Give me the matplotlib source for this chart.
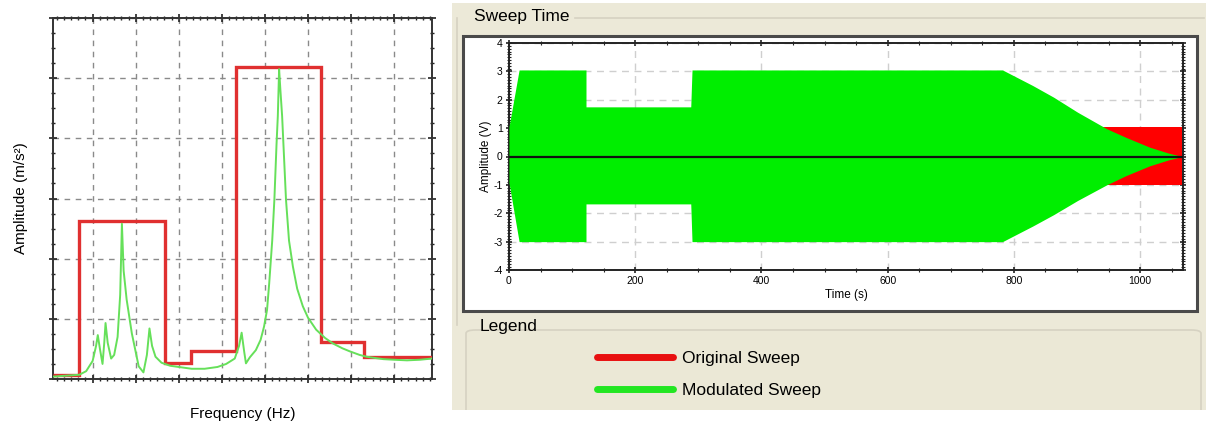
import numpy as np
import matplotlib
matplotlib.use("Agg")
import matplotlib.pyplot as plt
from matplotlib.patches import Rectangle, FancyBboxPatch
from matplotlib.lines import Line2D
from matplotlib.ticker import MultipleLocator

plt.rcParams["axes.unicode_minus"] = False

# ---- left panel: PSD profile (original) and response (modulated) ----
step_edges = [0.08, 0.69, 2.67, 3.29, 4.32, 6.31, 7.30, 8.88]
step_levels = [0.07, 2.62, 0.26, 0.47, 5.19, 0.61, 0.36]

resp_freq = [0.08, 0.69, 0.85, 1.0, 1.08, 1.12, 1.17, 1.23, 1.27, 1.30, 1.35, 1.43,
             1.50, 1.58, 1.64, 1.68, 1.72, 1.79, 1.91, 2.0, 2.07, 2.18, 2.26, 2.32,
             2.38, 2.46, 2.60, 2.80, 3.0, 3.3, 3.6, 3.9, 4.1, 4.3, 4.40, 4.46, 4.52,
             4.56, 4.65, 4.79, 4.9, 4.98, 5.05, 5.10, 5.17, 5.22, 5.27, 5.30, 5.33,
             5.36, 5.40, 5.45, 5.49, 5.56, 5.65, 5.75, 5.88, 6.0, 6.19, 6.4, 6.58,
             6.8, 6.97, 7.2, 7.36, 7.55, 7.75, 8.0, 8.3, 8.6, 8.88]
resp_amp = [0.04, 0.07, 0.13, 0.30, 0.55, 0.73, 0.50, 0.25, 0.60, 0.93, 0.60, 0.34,
            0.40, 0.70, 1.40, 2.58, 1.80, 1.32, 0.76, 0.45, 0.21, 0.11, 0.40, 0.84,
            0.55, 0.37, 0.27, 0.22, 0.20, 0.17, 0.17, 0.20, 0.25, 0.34, 0.55, 0.77,
            0.45, 0.26, 0.36, 0.48, 0.65, 0.87, 1.15, 1.59, 2.30, 2.98, 3.90, 4.37,
            5.15, 4.80, 4.37, 3.60, 2.98, 2.30, 1.87, 1.50, 1.21, 1.02, 0.82, 0.68,
            0.59, 0.51, 0.46, 0.40, 0.37, 0.35, 0.33, 0.32, 0.31, 0.32, 0.34]

# ---- right panel: sweep time envelopes ----
sweep_t = [0, 16, 122, 122, 288, 290, 782, 830, 863, 901, 947, 977, 1015, 1045, 1067]
mod_top = [1.05, 3.05, 3.05, 1.75, 1.75, 3.05, 3.05, 2.5, 2.09, 1.56, 0.98, 0.68, 0.33, 0.12, 0.0]
mod_bot = [-0.93, -3.0, -3.0, -1.67, -1.67, -3.0, -3.0, -2.45, -2.05, -1.55, -1.0, -0.68, -0.33, -0.12, 0.0]
orig_t = [0, 1067]
orig_top = [1.05, 1.05]
orig_bot = [-1.02, -1.02]

W, H = 1206, 428
fig = plt.figure(figsize=(W / 100, H / 100), dpi=100)
fig.patch.set_facecolor("white")

def fx(px):
    return px / W

def fy(py):
    return 1 - py / H

narrow = ["Liberation Sans Narrow", "Liberation Sans", "DejaVu Sans"]
beige = "#ece9d8"

# window-like background on the right
fig.patches.append(Rectangle((fx(452), fy(410)), fx(1206) - fx(452), fy(3) - fy(410),
                             transform=fig.transFigure, facecolor=beige, edgecolor="none", zorder=0))
fig.add_artist(Line2D([fx(575), fx(1204)], [fy(18), fy(18)], transform=fig.transFigure,
                      color="#d6d2c2", lw=1.2))
fig.add_artist(Line2D([fx(457), fx(457)], [fy(18), fy(325)], transform=fig.transFigure,
                      color="#d6d2c2", lw=1.2))
fig.patches.append(FancyBboxPatch((fx(466), fy(425)), fx(1201) - fx(466), fy(330) - fy(425),
                                  boxstyle="round,pad=0,rounding_size=0.008",
                                  transform=fig.transFigure, facecolor="#ebe8d6",
                                  edgecolor="#d6d2c2", lw=1.2, zorder=1))
fig.patches.append(Rectangle((fx(440), 0), 1 - fx(440), fy(410), transform=fig.transFigure,
                             facecolor="white", edgecolor="none", zorder=2))
fig.patches.append(Rectangle((fx(463), fy(311)), fx(1197) - fx(463), fy(36) - fy(311),
                             transform=fig.transFigure, facecolor="white", edgecolor="#4a4a4a",
                             lw=2.2, zorder=1))
fig.text(fx(474), fy(17), "Sweep Time", fontsize=12.5, family=narrow, va="center", ha="left")
fig.text(fx(480), fy(327), "Legend", fontsize=12.5, family=narrow, va="center", ha="left")

# ---------------- left axes ----------------
ax1 = fig.add_axes([fx(53), fy(379), fx(432) - fx(53), fy(18) - fy(379)])
ax1.stairs(step_levels, step_edges, baseline=None, color="#e03030", lw=2.4, zorder=3)
ax1.plot(resp_freq, resp_amp, color="#66e05a", lw=1.4, zorder=4)
ax1.set_xlim(0.08, 8.88)
ax1.set_ylim(0, 6)
ax1.xaxis.set_major_locator(MultipleLocator(1))
ax1.xaxis.set_minor_locator(MultipleLocator(1 / 6))
ax1.yaxis.set_major_locator(MultipleLocator(1))
ax1.yaxis.set_minor_locator(MultipleLocator(0.25))
ax1.grid(True, which="major", color="#8a8a8a", ls=(0, (4, 4)), lw=1)
ax1.tick_params(which="both", direction="inout", top=True, right=True,
                labelbottom=False, labelleft=False, color="#222222")
ax1.tick_params(which="major", length=6, width=1.2)
ax1.tick_params(which="minor", length=3, width=1)
for s in ax1.spines.values():
    s.set_color("#333333")
    s.set_linewidth(1.4)
ax1.set_xlabel("Frequency (Hz)", fontsize=11, family=narrow, labelpad=17)
ax1.set_ylabel("Amplitude (m/s²)", fontsize=11, family=narrow, labelpad=15)

# ---------------- right axes ----------------
ax2 = fig.add_axes([fx(509), fy(270), fx(1183) - fx(509), fy(43) - fy(270)], zorder=3)
ax2.fill_between(orig_t, orig_bot, orig_top, color="#ff0000", lw=0, zorder=2)
ax2.fill_between(sweep_t, mod_bot, mod_top, color="#00ee00", lw=0, zorder=3)
ax2.axhline(0, color="#111111", lw=1.6, zorder=4)
ax2.set_xlim(0, 1068)
ax2.set_ylim(-4, 4)
ax2.xaxis.set_major_locator(MultipleLocator(200))
ax2.xaxis.set_minor_locator(MultipleLocator(50))
ax2.yaxis.set_major_locator(MultipleLocator(1))
ax2.yaxis.set_minor_locator(MultipleLocator(0.1))
ax2.grid(True, which="major", color="#cfcfcf", ls=(0, (5, 4)), lw=1, zorder=1)
ax2.set_axisbelow(True)
ax2.tick_params(which="both", direction="inout", top=True, right=True,
                labelsize=7.5, color="#222222", pad=2)
ax2.tick_params(which="major", length=5, width=1.2)
ax2.tick_params(which="minor", length=3, width=0.8)
for lab in ax2.get_xticklabels() + ax2.get_yticklabels():
    lab.set_family(narrow)
for s in ax2.spines.values():
    s.set_color("#222222")
    s.set_linewidth(1.4)
ax2.set_xlabel("Time (s)", fontsize=8.5, family=narrow, labelpad=2)
ax2.set_ylabel("Amplitude (V)", fontsize=8.5, family=narrow, labelpad=1)

# legend in the "Legend" group box
handles = [Line2D([], [], color="#e81010", lw=5, solid_capstyle="round"),
           Line2D([], [], color="#22e622", lw=5, solid_capstyle="round")]
leg = fig.legend(handles, ["Original Sweep", "Modulated Sweep"], loc="upper left",
                 bbox_to_anchor=(fx(590), fy(344)), frameon=False, handlelength=4.4,
                 handletextpad=0.5, labelspacing=0.95, borderaxespad=0,
                 prop={"family": narrow, "size": 12.5})
leg.set_zorder(5)

fig.savefig("out.png", dpi=100)
